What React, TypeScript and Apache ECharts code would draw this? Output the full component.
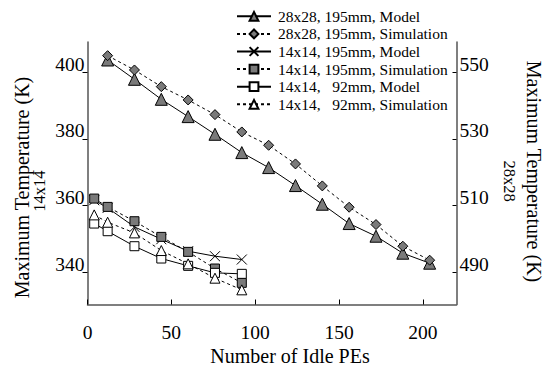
import React, { useEffect, useRef } from "react";
import * as echarts from "echarts";

// ---- data ----
const x28 = [12, 28, 44, 60, 76, 92, 108, 124, 140, 156, 172, 188, 204];
const model28_195 = [553.7, 547.9, 541.9, 536.7, 531.4, 525.9, 521.4, 516.0, 510.4, 504.6, 500.8, 495.7, 492.7];
const sim28_195 = [555.0, 550.7, 545.7, 541.7, 537.3, 532.1, 528.1, 522.5, 515.9, 509.5, 504.3, 497.8, 493.6];

const x14 = [4, 12, 28, 44, 60, 76, 92];
const model14_195 = [361.6, 359.3, 353.6, 349.9, 346.3, 344.8, 343.8];
const sim14_195 = [362.1, 359.6, 355.3, 350.6, 346.1, 341.1, 336.8];
const model14_92 = [354.6, 352.3, 347.8, 344.1, 341.9, 339.8, 339.5];
const sim14_92 = [357.2, 355.0, 351.8, 346.5, 342.5, 338.2, 334.7];

const xTicks = [0, 50, 100, 150, 200];
const leftTicks = [340, 360, 380, 400];
const rightTicks = [490, 510, 530, 550];

const seriesNames = [
  "28x28, 195mm, Model",
  "28x28, 195mm, Simulation",
  "14x14, 195mm, Model",
  "14x14, 195mm, Simulation",
  "14x14,   92mm, Model",
  "14x14,   92mm, Simulation",
];

const FONT = "Liberation Serif";
const BIGFONT = "serif";
const GRAY = "#7a7a7a";
const BIG = 20;
const TICK = 19.5;

const pairs = (xs: number[], ys: number[]) => xs.map((x, i) => [x, ys[i]]);

export default function App() {
  const ref = useRef<HTMLDivElement>(null);
  useEffect(() => {
    if (!ref.current) return;
    const chart = echarts.init(ref.current, null, { renderer: "svg" });
    const solid = { color: "#000", width: 1, type: "solid" as const };
    const dashed = { color: "#000", width: 1, type: [3, 3] as any };
    const mk = (
      name: string,
      data: number[][],
      yAxisIndex: number,
      symbol: string,
      size: number,
      fill: string,
      line: any
    ) => ({
      name,
      type: "line",
      yAxisIndex,
      data,
      symbol,
      symbolSize: size,
      showSymbol: true,
      lineStyle: line,
      itemStyle: { color: fill, borderColor: "#000", borderWidth: 1 },
      emphasis: { disabled: true },
    });
    const axisLine = { show: true, lineStyle: { color: "#555", width: 1.5 } };
    const tickLabel = {
      fontFamily: BIGFONT,
      fontSize: TICK,
      fontWeight: "normal" as const,
      color: "#000",
    };
    chart.setOption({
      animation: false,
      grid: { left: 87.5, right: 87.5, top: 42, bottom: 62.5, containLabel: false },
      legend: {
        orient: "vertical",
        left: 231,
        top: 2.5,
        itemWidth: 34,
        itemHeight: 11,
        itemGap: 0,
        textStyle: {
          fontFamily: FONT,
          fontSize: 15.5,
          color: "#000",
          lineHeight: 17.6,
          padding: [0, 0, 0, 2],
        },
        data: seriesNames,
      },
      xAxis: {
        type: "value",
        min: 0,
        max: 220,
        interval: 50,
        axisLine,
        axisTick: { show: true, inside: true, length: 5, customValues: xTicks, lineStyle: { color: "#000" } },
        axisLabel: { ...tickLabel, margin: 18, customValues: xTicks },
        splitLine: { show: false },
      },
      yAxis: [
        {
          type: "value",
          position: "left",
          min: 330.3,
          max: 409.1,
          axisLine,
          axisTick: {
            show: true,
            inside: false,
            length: 5,
            customValues: leftTicks,
            lineStyle: { color: "#000" },
          },
          axisLabel: {
            ...tickLabel,
            margin: 3,
            verticalAlign: "bottom",
            lineHeight: 16,
            customValues: leftTicks,
          },
          splitLine: { show: false },
        },
        {
          type: "value",
          position: "right",
          min: 480.3,
          max: 559.1,
          axisLine,
          axisTick: {
            show: true,
            inside: true,
            length: 4,
            customValues: rightTicks,
            lineStyle: { color: "#000" },
          },
          axisLabel: {
            ...tickLabel,
            margin: 3,
            verticalAlign: "bottom",
            lineHeight: 16,
            customValues: rightTicks,
          },
          splitLine: { show: false },
        },
      ],
      graphic: [
        {
          type: "text",
          x: 290,
          y: 356,
          style: {
            text: "Number of Idle PEs",
            fontFamily: BIGFONT,
            fontSize: BIG,
            fill: "#000",
            align: "center",
            verticalAlign: "middle",
          },
        },
        {
          type: "text",
          x: 21.7,
          y: 187.5,
          rotation: Math.PI / 2,
          style: {
            text: "Maximum Temperature (K)",
            fontFamily: BIGFONT,
            fontSize: BIG,
            fill: "#000",
            align: "center",
            verticalAlign: "middle",
          },
        },
        {
          type: "text",
          x: 39,
          y: 191,
          rotation: Math.PI / 2,
          style: {
            text: "14x14",
            fontFamily: FONT,
            fontSize: 16.5,
            fill: "#000",
            align: "center",
            verticalAlign: "middle",
          },
        },
        {
          type: "text",
          x: 534,
          y: 171.5,
          rotation: -Math.PI / 2,
          style: {
            text: "Maximum Temperature (K)",
            fontFamily: BIGFONT,
            fontSize: BIG,
            fill: "#000",
            align: "center",
            verticalAlign: "middle",
          },
        },
        {
          type: "text",
          x: 509.5,
          y: 181,
          rotation: -Math.PI / 2,
          style: {
            text: "28x28",
            fontFamily: FONT,
            fontSize: 16.5,
            fill: "#000",
            align: "center",
            verticalAlign: "middle",
          },
        },
      ],
      series: [
        mk(seriesNames[0], pairs(x28, model28_195), 1, "triangle", 12, GRAY, solid),
        mk(seriesNames[1], pairs(x28, sim28_195), 1, "diamond", 10, GRAY, dashed),
        {
          ...mk(seriesNames[2], pairs(x14, model14_195), 0, "path://M0,0L10,10M0,10L10,0", 10, "none", solid),
          itemStyle: { color: "rgba(0,0,0,0)", borderColor: "#000", borderWidth: 1 },
        },
        mk(seriesNames[3], pairs(x14, sim14_195), 0, "rect", 9, GRAY, dashed),
        mk(seriesNames[4], pairs(x14, model14_92), 0, "rect", 9, "#fff", solid),
        mk(seriesNames[5], pairs(x14, sim14_92), 0, "triangle", 10, "#fff", dashed),
      ],
    });
    return () => chart.dispose();
  }, []);
  return (
    <div
      ref={ref}
      style={{ position: "fixed", left: 0, top: 0, width: 544, height: 367, background: "#fff" }}
    />
  );
}
